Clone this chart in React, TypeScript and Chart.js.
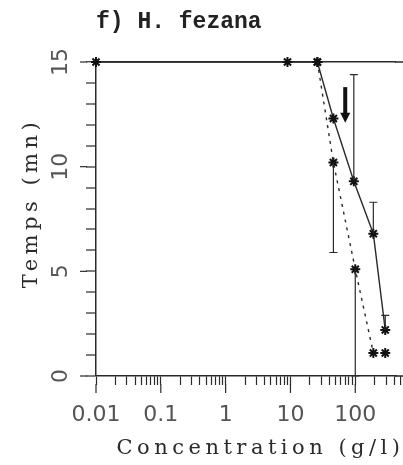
import React, { useEffect, useRef } from 'react';
import { Chart, registerables } from 'chart.js';

Chart.register(...registerables);

// ---- data ----
const TITLE = 'f) H. fezana';
const X_TITLE = 'Concentration (g/l)';
const Y_TITLE = 'Temps (mn)';

const xTickValues = [0.01, 0.1, 1, 10, 100];
const xTickLabels = ['0.01', '0.1', '1', '10', '100'];
const yTickValues = [0, 5, 10, 15];
const yTickLabels = ['0', '5', '10', '15'];

const solidConc = [0.01, 9, 26, 46, 95, 190, 290];
const solidTime = [15, 15, 15, 12.3, 9.3, 6.8, 2.2];
const solidErrHigh: (number | null)[] = [null, null, null, null, 14.4, 8.3, 2.9];

const dashedConc = [26, 46, 100, 190, 290];
const dashedTime = [15, 10.2, 5.1, 1.1, 1.1];
const dashedErrLow: (number | null)[] = [null, 5.9, 0, null, null];

const arrowConc = 70;
const arrowFrom = 13.8;
const arrowTo = 12.1;

const X_MIN = 0.01;
const X_MAX = 425;
const X_EXTRA_TICKS = [500];

const INK = '#2a2a2a';
const GREY = '#555';

const isPow10 = (v: number) => Math.abs(Math.log10(v) - Math.round(Math.log10(v))) < 1e-6;
const isNiceLog = (v: number) => {
  const m = v / Math.pow(10, Math.floor(Math.log10(v) + 1e-9));
  return Math.abs(m - Math.round(m)) < 1e-6;
};

const decorPlugin = {
  id: 'decor',
  afterDatasetsDraw(chart: any) {
    const ctx = chart.ctx;
    const xs = chart.scales.x;
    const ys = chart.scales.y;
    ctx.save();
    ctx.strokeStyle = INK;
    ctx.lineWidth = 1.2;
    const cap = 4;
    // solid upper error bars
    solidConc.forEach((c, i) => {
      const hi = solidErrHigh[i];
      if (hi == null) return;
      const px = xs.getPixelForValue(c);
      ctx.beginPath();
      ctx.moveTo(px, ys.getPixelForValue(solidTime[i]));
      ctx.lineTo(px, ys.getPixelForValue(hi));
      ctx.moveTo(px - cap, ys.getPixelForValue(hi));
      ctx.lineTo(px + cap, ys.getPixelForValue(hi));
      ctx.stroke();
    });
    // dashed lower error bars
    dashedConc.forEach((c, i) => {
      const lo = dashedErrLow[i];
      if (lo == null) return;
      const px = xs.getPixelForValue(c);
      ctx.beginPath();
      ctx.moveTo(px, ys.getPixelForValue(dashedTime[i]));
      ctx.lineTo(px, ys.getPixelForValue(lo));
      ctx.moveTo(px - cap, ys.getPixelForValue(lo));
      ctx.lineTo(px + cap, ys.getPixelForValue(lo));
      ctx.stroke();
    });
    // arrow annotation
    const ax = xs.getPixelForValue(arrowConc);
    const y1 = ys.getPixelForValue(arrowFrom);
    const y2 = ys.getPixelForValue(arrowTo);
    ctx.fillStyle = '#111';
    ctx.strokeStyle = '#111';
    ctx.lineWidth = 4;
    ctx.beginPath();
    ctx.moveTo(ax, y1);
    ctx.lineTo(ax, y2 - 9);
    ctx.stroke();
    ctx.beginPath();
    ctx.moveTo(ax - 5, y2 - 10);
    ctx.lineTo(ax + 5, y2 - 10);
    ctx.lineTo(ax, y2);
    ctx.closePath();
    ctx.fill();
    ctx.restore();
  },
  afterDraw(chart: any) {
    const ctx = chart.ctx;
    const xs = chart.scales.x;
    const ys = chart.scales.y;
    const area = chart.chartArea;
    ctx.save();
    ctx.strokeStyle = INK;
    // extend frame lines to the canvas edge
    ctx.lineWidth = 1.5;
    ctx.beginPath();
    ctx.moveTo(area.right - 1, ys.getPixelForValue(15));
    ctx.lineTo(chart.width, ys.getPixelForValue(15));
    ctx.moveTo(area.right - 1, area.bottom);
    ctx.lineTo(chart.width, area.bottom);
    ctx.stroke();
    ctx.lineWidth = 1.2;
    X_EXTRA_TICKS.forEach((v) => {
      const px = xs.getPixelForValue(v);
      if (px > chart.width) return;
      ctx.beginPath();
      ctx.moveTo(px, area.bottom);
      ctx.lineTo(px, area.bottom + 9);
      ctx.stroke();
    });
    // longer major ticks
    xs.ticks.forEach((t: any) => {
      if (!isPow10(t.value)) return;
      const px = xs.getPixelForValue(t.value);
      ctx.beginPath();
      ctx.moveTo(px, area.bottom + 8);
      ctx.lineTo(px, area.bottom + 17);
      ctx.stroke();
    });
    yTickValues.forEach((v) => {
      const py = ys.getPixelForValue(v);
      ctx.beginPath();
      ctx.moveTo(area.left - 9, py);
      ctx.lineTo(area.left - 16, py);
      ctx.stroke();
    });
    // rotated y tick labels
    ctx.fillStyle = GREY;
    ctx.font = '22px "DejaVu Sans"';
    ctx.textAlign = 'center';
    ctx.textBaseline = 'middle';
    yTickValues.forEach((v, i) => {
      const py = ys.getPixelForValue(v);
      ctx.save();
      ctx.translate(area.left - 35, py);
      ctx.rotate(-Math.PI / 2);
      ctx.fillText(yTickLabels[i], 0, 0);
      ctx.restore();
    });
    // axis titles
    ctx.fillStyle = INK;
    ctx.font = '21px "DejaVu Serif"';
    (ctx as any).letterSpacing = '4.5px';
    ctx.fillText(X_TITLE, (area.left + chart.width) / 2 + 11, area.bottom + 73);
    ctx.save();
    ctx.translate(area.left - 64, (area.top + area.bottom) / 2 - 16);
    ctx.rotate(-Math.PI / 2);
    ctx.fillText(Y_TITLE, 0, 0);
    ctx.restore();
    (ctx as any).letterSpacing = '0px';
    ctx.restore();
  },
};

export default function App() {
  const ref = useRef<HTMLCanvasElement | null>(null);
  useEffect(() => {
    if (!ref.current) return;
    const chart = new Chart(ref.current, {
      type: 'line',
      data: {
        datasets: [
          {
            label: 'solid',
            data: solidConc.map((c, i) => ({ x: c, y: solidTime[i] })),
            borderColor: INK,
            borderWidth: 1.4,
            pointStyle: 'star',
            pointRadius: 5,
            pointBorderWidth: 2,
            pointBorderColor: '#111',
            pointBackgroundColor: '#111',
            fill: false,
            tension: 0,
            clip: false,
          },
          {
            label: 'dashed',
            data: dashedConc.map((c, i) => ({ x: c, y: dashedTime[i] })),
            borderColor: INK,
            borderWidth: 1.4,
            borderDash: [3, 5],
            pointStyle: 'star',
            pointRadius: 5,
            pointBorderWidth: 2,
            pointBorderColor: '#111',
            pointBackgroundColor: '#111',
            fill: false,
            tension: 0,
            clip: false,
          },
        ],
      },
      options: {
        responsive: false,
        animation: false,
        layout: { padding: 0 },
        plugins: {
          legend: { display: false },
          tooltip: { enabled: false },
          title: {
            display: true,
            text: TITLE,
            align: 'start',
            fullSize: false,
            color: '#222',
            font: { family: '"Liberation Mono"', size: 23, weight: 'bold' },
            padding: { top: 8, bottom: 26.4 },
          },
        },
        scales: {
          x: {
            type: 'logarithmic',
            min: X_MIN,
            max: X_MAX,
            afterFit: (s: any) => {
              s.height = 89;
              s.paddingRight = 0;
            },
            border: { display: true, color: INK, width: 1.5 },
            grid: {
              drawOnChartArea: false,
              drawTicks: true,
              tickLength: 9,
              tickColor: (c: any) => (c.tick && isNiceLog(c.tick.value) ? INK : 'rgba(0,0,0,0)'),
              tickWidth: 1.2,
            },
            ticks: {
              autoSkip: false,
              maxRotation: 0,
              minRotation: 0,
              padding: 17,
              color: GREY,
              font: { family: '"DejaVu Sans"', size: 22 },
              callback: (v: any) => {
                const val = Number(v);
                if (!isPow10(val)) return '';
                const idx = xTickValues.findIndex((t) => Math.abs(Math.log10(t) - Math.log10(val)) < 1e-6);
                return idx >= 0 ? xTickLabels[idx] : '';
              },
            },
          },
          y: {
            type: 'linear',
            min: 0,
            max: 15,
            afterFit: (s: any) => {
              s.width = 96;
            },
            border: { display: true, color: INK, width: 1.5 },
            grid: {
              drawOnChartArea: true,
              drawTicks: true,
              tickLength: 10,
              tickColor: INK,
              tickWidth: 1.2,
              color: (c: any) => (c.tick && c.tick.value === 15 ? INK : 'rgba(0,0,0,0)'),
              lineWidth: (c: any) => (c.tick && c.tick.value === 15 ? 1.5 : 0),
            },
            ticks: {
              display: false,
              stepSize: 1,
            },
          },
        },
      },
      plugins: [decorPlugin],
    } as any);
    return () => chart.destroy();
  }, []);
  return (
    <div style={{ position: 'fixed', left: 0, top: 0, width: 403, height: 465, background: '#fff' }}>
      <canvas ref={ref} width={403} height={465} />
    </div>
  );
}
